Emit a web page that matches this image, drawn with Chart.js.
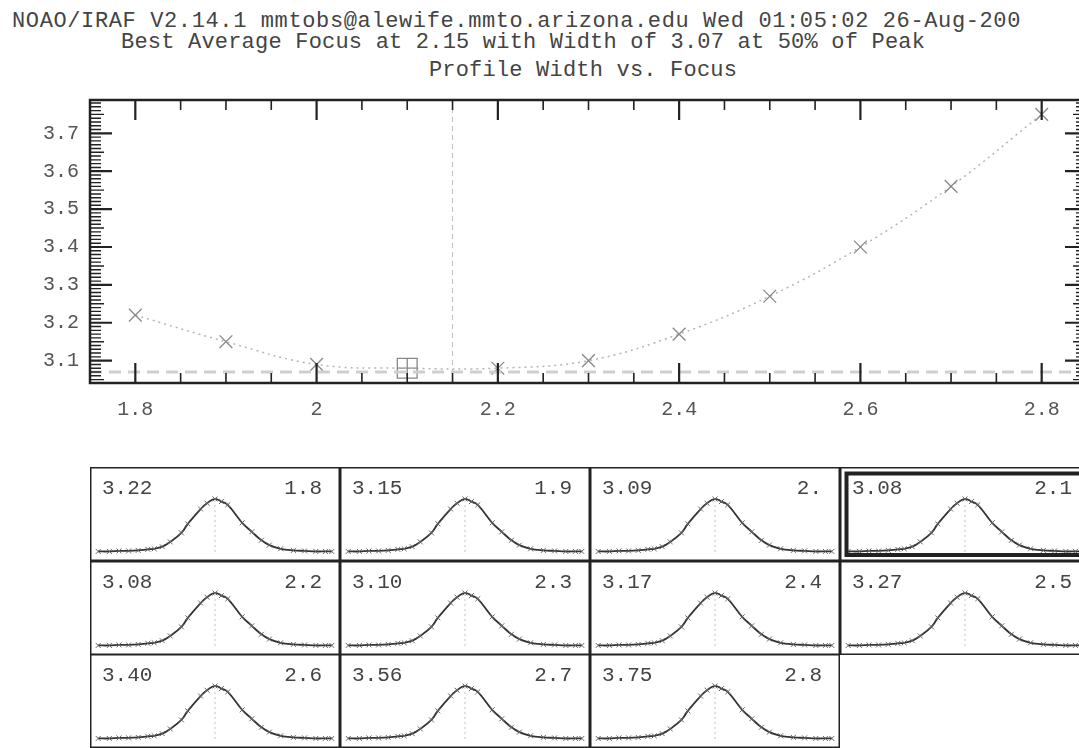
<!DOCTYPE html>
<html>
<head>
<meta charset="utf-8">
<title>Profile Width vs. Focus</title>
<script src="https://cdn.jsdelivr.net/npm/chart.js@4.4.1/dist/chart.umd.min.js"></script>
<style>
  html, body { margin: 0; padding: 0; background: #fff; overflow: hidden; }
  #page { position: relative; width: 1079px; height: 748px; overflow: hidden; background: #fff; }
  .title { position: absolute; font-family: 'Liberation Mono', monospace; font-size: 22px; line-height: 22px; color: #444; white-space: pre; }
  canvas { position: absolute; }
</style>
</head>
<body>
<div id="page">
  <div class="title" style="left:12px; top:11px; letter-spacing:0.62px;">NOAO/IRAF V2.14.1 mmtobs@alewife.mmto.arizona.edu Wed 01:05:02 26-Aug-200</div>
  <div class="title" style="left:121px; width:800px; text-align:center; top:32px; letter-spacing:0.2px;">Best Average Focus at 2.15 with Width of 3.07 at 50% of Peak</div>
  <div class="title" style="left:183px; width:800px; text-align:center; top:60px; letter-spacing:0.2px;">Profile Width vs. Focus</div>
  <canvas id="focusChart" width="1100" height="440" style="left:0; top:0;"></canvas>
</div>
<script>
// focus frames and measured profile widths
const focusValues = [1.8, 1.9, 2.0, 2.1, 2.2, 2.3, 2.4, 2.5, 2.6, 2.7, 2.8];
const widthValues = [3.22, 3.15, 3.09, 3.08, 3.08, 3.10, 3.17, 3.27, 3.40, 3.56, 3.75];
const focusLabels = ['1.8', '1.9', '2.', '2.1', '2.2', '2.3', '2.4', '2.5', '2.6', '2.7', '2.8'];
const bestFocus = 2.15;
const bestWidth = 3.07;
const bestFrame = 3; // frame 2.1 is marked with a box

const xTickValues = [1.8, 2.0, 2.2, 2.4, 2.6, 2.8];
const xTickLabels = ['1.8', '2', '2.2', '2.4', '2.6', '2.8'];
const yTickValues = [3.1, 3.2, 3.3, 3.4, 3.5, 3.6, 3.7];
const yTickLabels = ['3.1', '3.2', '3.3', '3.4', '3.5', '3.6', '3.7'];

// star profile (offset from centre, normalised level)
const profileOffsets = [-7.3, -6.6, -6.0, -5.4, -4.8, -4.2, -3.8, -3.3, -2.8, -2.1, -1.7, -0.9, -0.5, 0, 0.4, 0.8, 1.7, 2.3, 2.9, 3.4, 4.1, 4.9, 5.6, 6.3, 6.9, 7.3];
const profileLevels  = [0.01, 0.01, 0.02, 0.02, 0.03, 0.05, 0.06, 0.10, 0.19, 0.36, 0.53, 0.81, 0.92, 1.0, 0.95, 0.89, 0.55, 0.38, 0.22, 0.13, 0.06, 0.03, 0.02, 0.01, 0.01, 0.01];

const FONT = "'Liberation Mono', monospace";
const page = document.getElementById('page');

// frame with inward ticks on all four sides, IRAF style
const irafFrame = {
    id: 'irafFrame',
    afterDatasetsDraw(chart) {
        const { ctx, chartArea: a, scales: { x, y } } = chart;
        ctx.save();
        ctx.strokeStyle = '#222';

        const xStep = 0.05, xMajor = 4;
        for (let k = Math.ceil(x.min / xStep); k * xStep <= x.max + 1e-9; k++) {
            const px = x.getPixelForValue(k * xStep);
            const len = k % xMajor === 0 ? 20 : 10;
            ctx.lineWidth = k % xMajor === 0 ? 2.2 : 1.6;
            ctx.beginPath();
            ctx.moveTo(px, a.bottom); ctx.lineTo(px, a.bottom - len);
            ctx.moveTo(px, a.top); ctx.lineTo(px, a.top + len);
            ctx.stroke();
        }

        const yStep = 0.01, yMajor = 10;
        for (let k = Math.ceil(y.min / yStep); k * yStep <= y.max + 1e-9; k++) {
            const py = y.getPixelForValue(k * yStep);
            const len = k % yMajor === 0 ? 22 : (k % 5 === 0 ? 14 : 11);
            ctx.lineWidth = k % yMajor === 0 ? 2.2 : 1.4;
            ctx.beginPath();
            ctx.moveTo(a.left, py); ctx.lineTo(a.left + len, py);
            ctx.moveTo(a.right, py); ctx.lineTo(a.right - len, py);
            ctx.stroke();
        }

        ctx.lineWidth = 2.5;
        ctx.strokeRect(a.left, a.top, a.right - a.left, a.bottom - a.top);
        ctx.restore();
    }
};

const focusPoints = focusValues.map((f, i) => ({ x: f, y: widthValues[i] }));

new Chart(document.getElementById('focusChart'), {
    type: 'line',
    data: {
        datasets: [
            {
                // best width level
                data: [{ x: 1.75, y: bestWidth }, { x: 2.85, y: bestWidth }],
                borderColor: '#cfcfcf',
                borderWidth: 3,
                borderDash: [12, 7],
                pointRadius: 0
            },
            {
                // best focus
                data: [{ x: bestFocus, y: 3.041 }, { x: bestFocus, y: 3.788 }],
                borderColor: '#bdbdbd',
                borderWidth: 1,
                borderDash: [5, 4],
                pointRadius: 0
            },
            {
                data: focusPoints,
                borderColor: '#b5b5b5',
                borderWidth: 1.5,
                borderDash: [2, 4],
                tension: 0.4,
                pointStyle: focusPoints.map((p, i) => i === bestFrame ? 'rect' : 'crossRot'),
                pointRadius: focusPoints.map((p, i) => i === bestFrame ? 14 : 9),
                pointBorderColor: '#888',
                pointBorderWidth: 1.3,
                pointBackgroundColor: 'rgba(0,0,0,0)'
            },
            {
                data: [focusPoints[bestFrame]],
                showLine: false,
                pointStyle: 'cross',
                pointRadius: 10,
                pointBorderColor: '#888',
                pointBorderWidth: 1.3
            }
        ]
    },
    options: {
        responsive: false,
        animation: false,
        layout: { padding: { top: 100, right: 13, bottom: 0, left: 0 } },
        plugins: { legend: { display: false }, tooltip: { enabled: false } },
        scales: {
            x: {
                type: 'linear',
                min: 1.75,
                max: 2.85,
                afterFit: (s) => { s.height = 57; },
                afterBuildTicks: (s) => { s.ticks = xTickValues.map(v => ({ value: v })); },
                grid: { display: false, drawTicks: false },
                border: { display: false },
                ticks: {
                    padding: 15,
                    color: '#555',
                    font: { family: FONT, size: 20 },
                    maxRotation: 0,
                    autoSkip: false,
                    callback: (v, i) => xTickLabels[i]
                }
            },
            y: {
                type: 'linear',
                min: 3.041,
                max: 3.788,
                afterFit: (s) => { s.width = 90; },
                afterBuildTicks: (s) => { s.ticks = yTickValues.map(v => ({ value: v })); },
                grid: { display: false, drawTicks: false },
                border: { display: false },
                ticks: {
                    padding: 11,
                    color: '#555',
                    font: { family: FONT, size: 20 },
                    autoSkip: false,
                    callback: (v, i) => yTickLabels[i]
                }
            }
        }
    },
    plugins: [irafFrame]
});

// small profile panels
const panelFrame = {
    id: 'panelFrame',
    afterDraw(chart, args, opts) {
        const { ctx, width, height } = chart;
        ctx.save();
        ctx.strokeStyle = '#222';
        ctx.lineWidth = 1.5;
        ctx.strokeRect(0.75, 0.75, width - 1.5, height - 1.5);
        if (opts.best) {
            ctx.lineWidth = 4;
            ctx.strokeRect(6.5, 6.5, width, 81.5);
        }
        ctx.font = '21px ' + FONT;
        ctx.fillStyle = '#444';
        ctx.textBaseline = 'alphabetic';
        ctx.textAlign = 'left';
        ctx.fillText(opts.widthLabel, 12, 27);
        ctx.textAlign = 'right';
        ctx.fillText(opts.focusLabel, 232, 27);
        ctx.restore();
    }
};

const profilePoints = profileOffsets.map((o, i) => ({ x: o, y: profileLevels[i] }));

focusValues.forEach((f, i) => {
    const col = i % 4, row = Math.floor(i / 4);
    const c = document.createElement('canvas');
    c.width = 250;
    c.height = 94;
    c.style.left = (90 + col * 250) + 'px';
    c.style.top = Math.round(467 + row * 93.5) + 'px';
    page.appendChild(c);

    new Chart(c, {
        type: 'line',
        data: {
            datasets: [
                {
                    data: [{ x: 0, y: 0 }, { x: 0, y: 1 }],
                    borderColor: '#c4c4c4',
                    borderWidth: 1,
                    borderDash: [2, 3],
                    pointRadius: 0
                },
                {
                    data: profilePoints,
                    borderColor: '#333',
                    borderWidth: 1.8,
                    tension: 0.4,
                    pointStyle: 'crossRot',
                    pointRadius: 3.5,
                    pointBorderColor: '#666',
                    pointBorderWidth: 1
                }
            ]
        },
        options: {
            responsive: false,
            animation: false,
            layout: { padding: 0 },
            plugins: {
                legend: { display: false },
                tooltip: { enabled: false },
                panelFrame: {
                    widthLabel: widthValues[i].toFixed(2),
                    focusLabel: focusLabels[i],
                    best: i === bestFrame
                }
            },
            scales: {
                x: { type: 'linear', display: false, min: -7.5, max: 7.5 },
                y: { type: 'linear', display: false, min: -0.076, max: 1.508 }
            }
        },
        plugins: [panelFrame]
    });
});
</script>
</body>
</html>
